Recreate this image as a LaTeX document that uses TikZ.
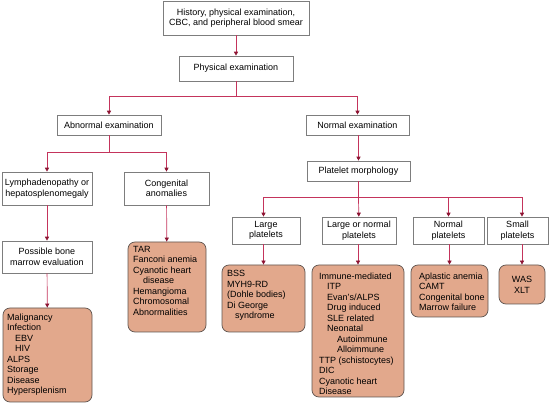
\documentclass[tikz,border=0pt]{standalone}
\usepackage{fontspec}
\setmainfont{Liberation Sans}
\usetikzlibrary{arrows.meta}
\definecolor{linec}{RGB}{196,52,92}
\definecolor{tipc}{RGB}{140,20,50}
\definecolor{boxline}{RGB}{125,125,125}
\definecolor{resline}{RGB}{95,85,80}
\definecolor{resfill}{RGB}{226,168,140}
\begin{document}
\begin{tikzpicture}[x=1pt,y=-1pt,
  every node/.style={font=\fontsize{9}{10.5}\selectfont},
  plainbox/.style={draw=boxline,line width=0.6pt,fill=white,align=center,inner sep=0pt},
  resbox/.style={draw=resline,line width=0.7pt,fill=resfill,rounded corners=7pt,inner sep=0pt},
  restext/.style={align=left,inner sep=0pt,anchor=north west},
  conn/.style={draw=linec,line width=0.7pt},
  arr/.style={conn,-{Triangle[width=4pt,length=4pt,color=tipc]}}]
\useasboundingbox (0,0) rectangle (550,403);
% plain boxes
\node[plainbox,minimum width=146pt,minimum height=34pt] (top) at (236,18) {History, physical examination,\\CBC, and peripheral blood smear};
\node[plainbox,minimum width=114pt,minimum height=25pt] (phys) at (236,68.5) {Physical examination};
\node[plainbox,minimum width=104pt,minimum height=20pt] (abn) at (109,125) {Abnormal examination};
\node[plainbox,minimum width=103pt,minimum height=20pt] (norm) at (357.5,125) {Normal examination};
\node[plainbox,minimum width=90pt,minimum height=33pt] (lymph) at (47,188.5) {Lymphadenopathy or\\hepatosplenomegaly};
\node[plainbox,minimum width=85pt,minimum height=33pt] (cong) at (166.5,188.5) {Congenital\\anomalies};
\node[plainbox,minimum width=90pt,minimum height=32pt] (marrow) at (47,257) {Possible bone\\marrow evaluation};
\node[plainbox,minimum width=103pt,minimum height=20pt] (plm) at (358.5,171) {Platelet morphology};
\node[plainbox,minimum width=68pt,minimum height=27pt] (large) at (266,230.5) {Large\\platelets};
\node[plainbox,minimum width=74pt,minimum height=27pt] (lgnorm) at (359,230.5) {Large or normal\\platelets};
\node[plainbox,minimum width=71pt,minimum height=27pt] (normpl) at (448.5,230.5) {Normal\\platelets};
\node[plainbox,minimum width=61pt,minimum height=27pt] (small) at (517.5,230.5) {Small\\platelets};
% result boxes
\node[resbox,minimum width=89pt,minimum height=94pt] (r1) at (47.5,355) {};
\node[resbox,minimum width=78pt,minimum height=90pt] (r2) at (167,287) {};
\node[resbox,minimum width=83pt,minimum height=67pt] (r3) at (263.5,298.5) {};
\node[resbox,minimum width=92pt,minimum height=132pt] (r4) at (358,331) {};
\node[resbox,minimum width=77pt,minimum height=52pt] (r5) at (449.5,291) {};
\node[resbox,minimum width=46pt,minimum height=39pt] (r6) at (522,284.5) {};
\node[restext] (t1) at (7,313.5) {Malignancy\\Infection\\\hspace*{8pt}EBV\\\hspace*{8pt}HIV\\ALPS\\Storage\\Disease\\Hypersplenism};
\node[restext] (t2) at (133,246) {TAR\\Fanconi anemia\\Cyanotic heart\\\hspace*{10pt}disease\\Hemangioma\\Chromosomal\\Abnormalities};
\node[restext] (t3) at (227,270.5) {BSS\\MYH9-RD\\(Dohle bodies)\\Di George\\\hspace*{8pt}syndrome};
\node[restext] (t4) at (319,272.5) {Immune-mediated\\\hspace*{8pt}ITP\\\hspace*{8pt}Evan's/ALPS\\\hspace*{8pt}Drug induced\\\hspace*{8pt}SLE related\\\hspace*{8pt}Neonatal\\\hspace*{18pt}Autoimmune\\\hspace*{18pt}Alloimmune\\TTP (schistocytes)\\DIC\\Cyanotic heart\\Disease};
\node[restext] (t5) at (419,272.5) {Aplastic anemia\\CAMT\\Congenital bone\\Marrow failure};
\node[align=center,inner sep=0pt] (t6) at (522,285) {WAS\\XLT};
% connectors
\coordinate (j1) at (236,96);
\coordinate (j2) at (109,152);
\coordinate (j3) at (358.5,197);
\draw[arr] (top) -- (phys);
\draw[conn] (phys) -- (j1);
\draw[arr] (j1) -| (abn);
\draw[arr] (j1) -| (norm);
\draw[conn] (abn) -- (j2);
\draw[arr] (j2) -| (lymph);
\draw[arr] (j2) -| (cong);
\draw[arr] (lymph) -- (marrow);
\draw[arr] (marrow) -- (r1);
\draw[arr] (cong) -- (r2);
\draw[arr] (norm.south -| plm.north) -- (plm.north);
\draw[conn] (plm) -- (j3);
\draw[arr] (j3) -| (r3.north |- large.north);
\draw[arr] (j3) -- (lgnorm);
\draw[arr] (j3) -| (normpl);
\draw[arr] (j3) -| (r6.north |- small.north);
\draw[arr] (r3.north |- large.south) -- (r3.north);
\draw[arr] (r4.north |- lgnorm.south) -- (r4.north);
\draw[arr] (r5.north |- normpl.south) -- (r5.north);
\draw[arr] (r6.north |- small.south) -- (r6.north);
\end{tikzpicture}
\end{document}
